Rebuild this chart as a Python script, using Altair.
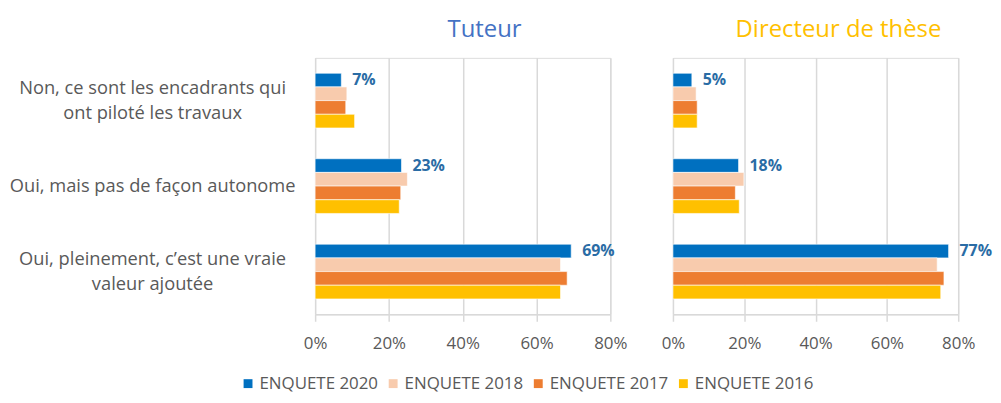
import altair as alt
import pandas as pd

categories = [
    "Non, ce sont les encadrants qui\nont piloté les travaux",
    "Oui, mais pas de façon autonome",
    "Oui, pleinement,  c’est une vraie\nvaleur ajoutée",
]
series = ["ENQUETE 2020", "ENQUETE 2018", "ENQUETE 2017", "ENQUETE 2016"]
colors = ["#0070C0", "#F8CBAD", "#ED7D31", "#FFC000"]

# values in percent, per series, per category
tuteur_2020 = [7.1, 23.4, 69.4]
tuteur_2018 = [8.6, 25.0, 66.5]
tuteur_2017 = [8.3, 23.2, 68.3]
tuteur_2016 = [10.7, 22.8, 66.5]

directeur_2020 = [5.3, 18.4, 77.3]
directeur_2018 = [6.5, 19.9, 74.1]
directeur_2017 = [6.8, 17.5, 76.0]
directeur_2016 = [6.8, 18.6, 75.1]

panels = {
    "Tuteur": [tuteur_2020, tuteur_2018, tuteur_2017, tuteur_2016],
    "Directeur de thèse": [directeur_2020, directeur_2018, directeur_2017, directeur_2016],
}

rows = []
for panel, vals in panels.items():
    for s, arr in zip(series, vals):
        for c, v in zip(categories, arr):
            rows.append({"panel": panel, "cat": c, "series": s, "value": v / 100.0,
                         "label": f"{round(v)}%"})
df = pd.DataFrame(rows)

FONT = "Open Sans"
GRID = "#D9D9D9"
GRAY = "#595959"


def panel_chart(name, title_color, width, show_y, dx):
    data = df[df["panel"] == name]
    yaxis = alt.Axis(
        title=None, domain=False, ticks=False, labelAlign="center",
        labelPadding=164, labelFontSize=18.4, labelColor=GRAY, labelFont=FONT,
        labelExpr="split(datum.label, '\\n')", labelLimit=400, labelLineHeight=25,
        labelOffset={"condition": {"test": "indexof(datum.value, '\\n') >= 0", "value": -12.5},
                     "value": 0},
    ) if show_y else None
    y = alt.Y("cat:N", sort=categories,
              scale=alt.Scale(paddingInner=0.36, paddingOuter=0.18), axis=yaxis)
    yoff = alt.YOffset("series:N", scale=alt.Scale(domain=series))
    x = alt.X("value:Q", scale=alt.Scale(domain=[0, 0.8], nice=False),
              axis=alt.Axis(title=None, format=".0%", values=[0, 0.2, 0.4, 0.6, 0.8],
                            grid=True, gridColor=GRID, gridWidth=1.5,
                            tickColor=GRID, tickWidth=1.5, tickSize=7,
                            domainColor=GRID, domainWidth=1.5, labelFlush=False,
                            labelColor=GRAY, labelFontSize=17, labelFont=FONT,
                            labelPadding=14))
    bars = alt.Chart(data).mark_bar(stroke="white", strokeWidth=0.6).encode(
        x=x, y=y, yOffset=yoff,
        color=alt.Color("series:N", scale=alt.Scale(domain=series, range=colors),
                        legend=alt.Legend(title=None, orient="none", direction="horizontal",
                                          legendX=-76, legendY=319, padding=0,
                                          symbolType="square", symbolSize=80,
                                          symbolStrokeWidth=0,
                                          labelFontSize=17, labelColor=GRAY, labelFont=FONT,
                                          columns=4, columnPadding=6, labelOffset=3)),
    )
    text = alt.Chart(data[data["series"] == "ENQUETE 2020"]).mark_text(
        align="left", baseline="middle", dx=11, fontWeight="bold", fontSize=16,
        font=FONT, color="#2A6CA5",
    ).encode(x=x, y=y, yOffset=yoff, text="label:N")
    return alt.layer(bars, text).properties(
        width=width, height=258,
        title=alt.TitleParams(name, color=title_color, fontSize=24, font=FONT,
                              fontWeight="normal", dx=dx, offset=16, anchor="middle"),
    )


left = panel_chart("Tuteur", "#4472C4", 297, True, 22)
right = panel_chart("Directeur de thèse", "#FFC000", 287, False, 23)

chart = alt.hconcat(left, right, spacing=32).properties(
    padding={"left": 0, "top": 8, "right": 0, "bottom": 0}
).configure_view(stroke=None).configure(font=FONT)

chart.save("out.html", embed_options={"renderer": "svg", "actions": False})
